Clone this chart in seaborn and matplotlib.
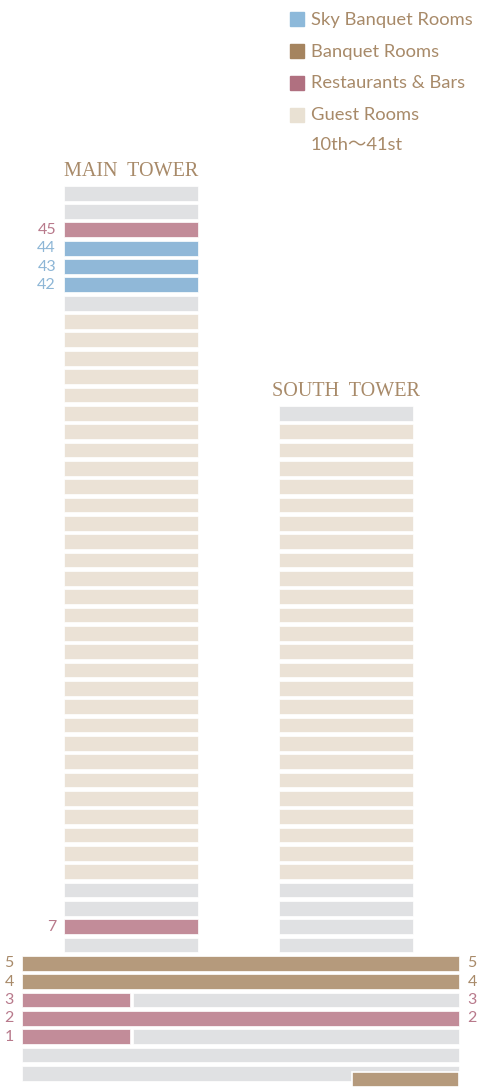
import numpy as np
import pandas as pd
import matplotlib.pyplot as plt
import seaborn as sns
from matplotlib.patches import Rectangle

# floor uses, bottom to top (B1 = 0, B2 = -1)
main_floors = list(range(6, 48))
main_use = (["other"] + ["restaurant"] + ["other"] * 2 + ["guest"] * 31
            + ["other"] + ["sky"] * 3 + ["restaurant"] + ["other"] * 2)

south_floors = list(range(6, 36))
south_use = ["other"] * 4 + ["guest"] * 25 + ["other"]

# low-rise block: floor, from, to, use
podium_floor = [5, 4, 3, 3, 2, 1, 1, 0, -1]
podium_from = [22, 22, 22, 133, 22, 22, 133, 22, 22]
podium_to = [459, 459, 130, 459, 459, 130, 459, 459, 459]
podium_use = ["banquet", "banquet", "restaurant", "other", "restaurant",
              "restaurant", "other", "other", "other"]

# annex banquet hall next to B2
annex_floor = -1
annex_from, annex_to = 352, 459

main_span = (64, 198)
south_span = (279, 413)

main_labels = {45: "restaurant", 44: "sky", 43: "sky", 42: "sky", 7: "restaurant"}
left_labels = {5: "banquet", 4: "banquet", 3: "restaurant", 2: "restaurant", 1: "restaurant"}
right_labels = {5: "banquet", 4: "banquet", 3: "restaurant", 2: "restaurant"}

legend_names = ["Sky Banquet Rooms", "Banquet Rooms", "Restaurants & Bars",
                "Guest Rooms\n10th～41st"]
legend_uses = ["sky", "banquet", "restaurant", "guest"]

bar_col = {"other": "#e0e1e3", "guest": "#ebe2d6", "restaurant": "#c28c99",
           "sky": "#90b8d8", "banquet": "#b59a7c"}
key_col = {"sky": "#8db9da", "banquet": "#a5845f", "restaurant": "#b07080",
           "guest": "#e9e1d3"}
txt_col = {"sky": "#8db6d6", "banquet": "#a88a69", "restaurant": "#b8798b"}
brown = "#a88a69"

rows = []
for f, u in zip(main_floors, main_use):
    rows.append((f + 1, main_span[0], main_span[1] - main_span[0], u))
for f, u in zip(south_floors, south_use):
    rows.append((f + 1, south_span[0], south_span[1] - south_span[0], u))
for f, a, b, u in zip(podium_floor, podium_from, podium_to, podium_use):
    rows.append((f + 1, a, b - a, u))
df = pd.DataFrame(rows, columns=["level", "left", "width", "use"])

sns.set_theme(style="white")
plt.rcParams["font.family"] = ["Lato", "Noto Sans CJK JP", "DejaVu Sans"]

fig = plt.figure(figsize=(4.82, 10.89), dpi=100)
ax = fig.add_axes([0, 0, 1, 1])
ax.set_xlim(0, 482)
ax.set_ylim(-0.856, 58.54)
ax.axis("off")

h = 0.81
ax.barh(df["level"], df["width"], left=df["left"], height=h,
        color=[bar_col[u] for u in df["use"]], edgecolor="white", linewidth=0.5)
# annex sits a bit lower than B2
ax.barh(annex_floor + 1 - 0.34, annex_to - annex_from, left=annex_from, height=h,
        color=bar_col["banquet"], edgecolor="white", linewidth=1.2)

num_size = 11.5
for f, u in main_labels.items():
    ax.text(main_span[0] - 8, f + 1, str(f), ha="right", va="center",
            fontsize=num_size, color=txt_col[u])
for f, u in left_labels.items():
    ax.text(9, f + 1, str(f), ha="center", va="center", fontsize=num_size, color=txt_col[u])
for f, u in right_labels.items():
    ax.text(472, f + 1, str(f), ha="center", va="center", fontsize=num_size, color=txt_col[u])

serif = ["Liberation Serif", "DejaVu Serif"]
ax.text(sum(main_span) / 2, max(main_floors) + 1 + 1.2, "MAIN  TOWER", ha="center",
        va="center", fontsize=14.5, color=brown, family=serif)
ax.text(sum(south_span) / 2, max(south_floors) + 1 + 1.17, "SOUTH  TOWER", ha="center",
        va="center", fontsize=14.5, color=brown, family=serif)

# legend
W, H = 482, 1089
for i, (name, u) in enumerate(zip(legend_names, legend_uses)):
    top = 12 + 32 * i
    fig.patches.append(Rectangle((290 / W, 1 - (top + 14) / H), 14 / W, 14 / H,
                                 transform=fig.transFigure, color=key_col[u]))
    fig.text(311 / W, 1 - (top + 7.5) / H, name.split("\n")[0], ha="left", va="center",
             fontsize=13.2, color=brown)
    if "\n" in name:
        fig.text(311 / W, 1 - (top + 36.5) / H, name.split("\n")[1], ha="left", va="center",
                 fontsize=13.2, color=brown)

fig.savefig("out.png", dpi=100, facecolor="white")
